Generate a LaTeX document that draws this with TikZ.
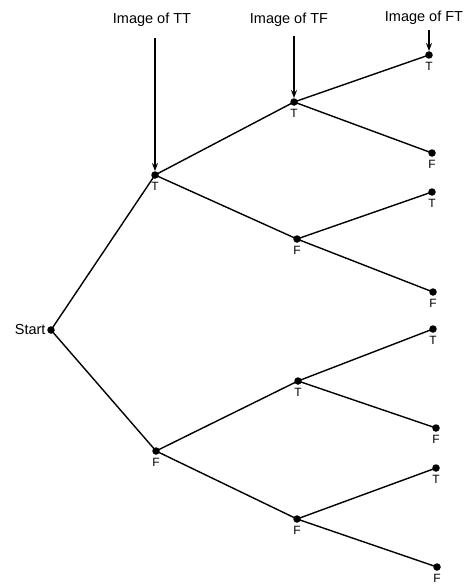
\documentclass[tikz,border=0pt]{standalone}
\usepackage{fontspec}
\setmainfont{Liberation Sans}
\usetikzlibrary{arrows.meta}
\begin{document}
\begin{tikzpicture}[x=1pt,y=-1pt,
  dot/.style={circle,fill=black,inner sep=0pt,minimum size=7.5pt},
  edge/.style={line width=1.4pt},
  lab/.style={font=\fontsize{12}{13}\selectfont,below=4pt},
  ptr/.style={line width=1.3pt,-{Stealth[length=8pt,width=6pt]}},
  toplab/.style={font=\fontsize{14.5}{16}\selectfont}]
\useasboundingbox (0,0) rectangle (467,586);
% nodes
\node[dot] (s) at (51,330) {};
\node[dot] (t) at (155,175) {};
\node[dot] (f) at (156,451) {};
\node[dot] (tt) at (294,102) {};
\node[dot] (tf) at (297,239) {};
\node[dot] (ft) at (298,381) {};
\node[dot] (ff) at (297,519) {};
\node[dot] (ttt) at (429,55) {};
\node[dot] (ttf) at (432,153) {};
\node[dot] (tft) at (432,192) {};
\node[dot] (tff) at (433,292) {};
\node[dot] (ftt) at (433,329) {};
\node[dot] (ftf) at (436,428) {};
\node[dot] (fft) at (436,468) {};
\node[dot] (fff) at (437,567) {};
% edges
\draw[edge] (s.center) -- (t.center);
\draw[edge] (s.center) -- (f.center);
\draw[edge] (t.center) -- (tt.center);
\draw[edge] (t.center) -- (tf.center);
\draw[edge] (f.center) -- (ft.center);
\draw[edge] (f.center) -- (ff.center);
\draw[edge] (tt.center) -- (ttt.center);
\draw[edge] (tt.center) -- (ttf.center);
\draw[edge] (tf.center) -- (tft.center);
\draw[edge] (tf.center) -- (tff.center);
\draw[edge] (ft.center) -- (ftt.center);
\draw[edge] (ft.center) -- (ftf.center);
\draw[edge] (ff.center) -- (fft.center);
\draw[edge] (ff.center) -- (fff.center);
% labels
\node[font=\fontsize{14.5}{16}\selectfont,left=2pt] (ls) at (s.center) {Start};
\node[lab] (lt) at (t) {T};
\node[lab] (lf) at (f) {F};
\node[lab] (ltt) at (tt) {T};
\node[lab] (ltf) at (tf) {F};
\node[lab] (lft) at (ft) {T};
\node[lab] (lff) at (ff) {F};
\node[lab] (lttt) at (ttt) {T};
\node[lab] (lttf) at (ttf) {F};
\node[lab] (ltft) at (tft) {T};
\node[lab] (ltff) at (tff) {F};
\node[lab] (lftt) at (ftt) {T};
\node[lab] (lftf) at (ftf) {F};
\node[lab] (lfft) at (fft) {T};
\node[lab] (lfff) at (fff) {F};
% top labels and pointers
\node[toplab] (it) at (152,20) {Image of TT};
\node[toplab] (if) at (289,20) {Image of TF};
\node[toplab] (ift) at (424,18) {Image of FT};
\draw[ptr] (155,38) -- (t.north);
\draw[ptr] (294,36) -- (tt.north);
\draw[ptr] (429,30) -- (ttt.north);
\end{tikzpicture}
\end{document}
